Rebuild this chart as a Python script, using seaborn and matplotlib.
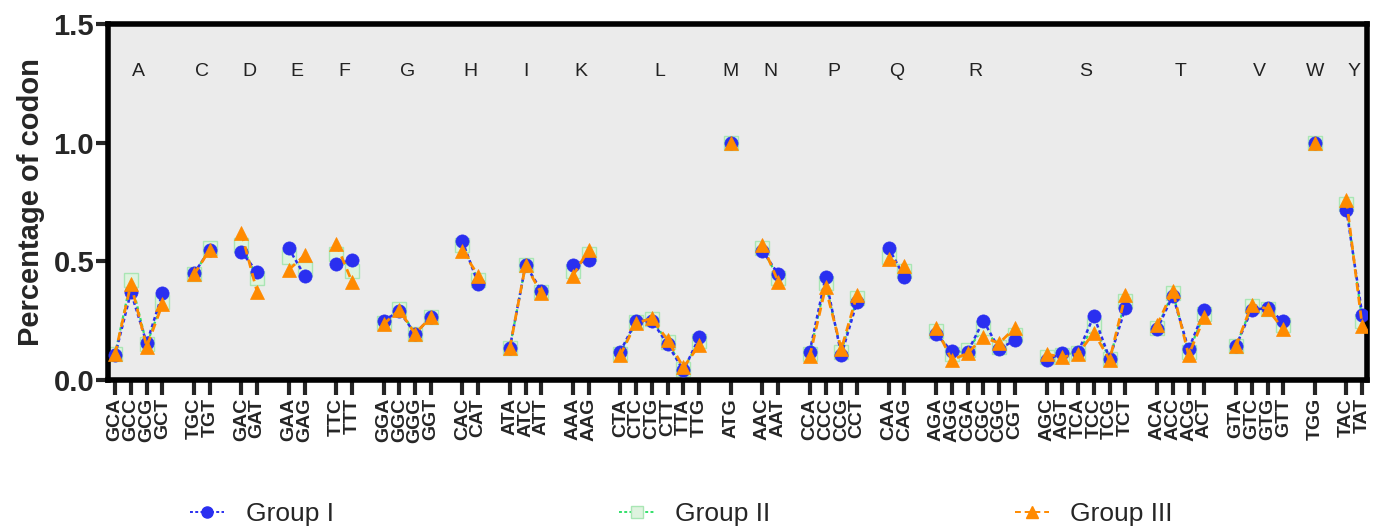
import numpy as np
import pandas as pd
import matplotlib
matplotlib.use("Agg")
import matplotlib.pyplot as plt
from matplotlib.lines import Line2D
import seaborn as sns

sns.set_style("white")
plt.rcParams['font.family'] = ['Liberation Sans', 'DejaVu Sans']

# ---------- DATA ----------
amino_acids = ["A", "C", "D", "E", "F", "G", "H", "I", "K", "L",
               "M", "N", "P", "Q", "R", "S", "T", "V", "W", "Y"]

codons = [
    ["GCA", "GCC", "GCG", "GCT"],
    ["TGC", "TGT"],
    ["GAC", "GAT"],
    ["GAA", "GAG"],
    ["TTC", "TTT"],
    ["GGA", "GGC", "GGG", "GGT"],
    ["CAC", "CAT"],
    ["ATA", "ATC", "ATT"],
    ["AAA", "AAG"],
    ["CTA", "CTC", "CTG", "CTT", "TTA", "TTG"],
    ["ATG"],
    ["AAC", "AAT"],
    ["CCA", "CCC", "CCG", "CCT"],
    ["CAA", "CAG"],
    ["AGA", "AGG", "CGA", "CGC", "CGG", "CGT"],
    ["AGC", "AGT", "TCA", "TCC", "TCG", "TCT"],
    ["ACA", "ACC", "ACG", "ACT"],
    ["GTA", "GTC", "GTG", "GTT"],
    ["TGG"],
    ["TAC", "TAT"],
]

group1 = [
    [0.105, 0.37, 0.155, 0.365],
    [0.45, 0.55],
    [0.54, 0.455],
    [0.555, 0.44],
    [0.49, 0.505],
    [0.25, 0.29, 0.195, 0.265],
    [0.585, 0.405],
    [0.135, 0.485, 0.377],
    [0.485, 0.507],
    [0.12, 0.25, 0.25, 0.15, 0.04, 0.18],
    [1.0],
    [0.545, 0.447],
    [0.12, 0.433, 0.105, 0.33],
    [0.557, 0.433],
    [0.193, 0.122, 0.118, 0.25, 0.13, 0.168],
    [0.084, 0.113, 0.118, 0.27, 0.09, 0.305],
    [0.213, 0.356, 0.13, 0.293],
    [0.142, 0.297, 0.302, 0.247],
    [1.0],
    [0.716, 0.276],
]

group2 = [
    [0.11, 0.42, 0.15, 0.33],
    [0.445, 0.555],
    [0.57, 0.43],
    [0.52, 0.47],
    [0.53, 0.46],
    [0.24, 0.30, 0.195, 0.265],
    [0.57, 0.42],
    [0.135, 0.485, 0.37],
    [0.46, 0.53],
    [0.11, 0.245, 0.255, 0.16, 0.045, 0.165],
    [1.0],
    [0.555, 0.43],
    [0.11, 0.41, 0.12, 0.345],
    [0.52, 0.46],
    [0.205, 0.11, 0.125, 0.22, 0.14, 0.19],
    [0.095, 0.105, 0.115, 0.23, 0.087, 0.335],
    [0.22, 0.367, 0.118, 0.28],
    [0.142, 0.31, 0.30, 0.23],
    [1.0],
    [0.74, 0.25],
]

group3 = [
    [0.11, 0.405, 0.14, 0.32],
    [0.445, 0.55],
    [0.62, 0.37],
    [0.465, 0.525],
    [0.575, 0.415],
    [0.235, 0.295, 0.195, 0.265],
    [0.545, 0.44],
    [0.135, 0.485, 0.365],
    [0.44, 0.55],
    [0.105, 0.24, 0.26, 0.168, 0.053, 0.147],
    [1.0],
    [0.57, 0.415],
    [0.10, 0.39, 0.13, 0.36],
    [0.51, 0.48],
    [0.22, 0.084, 0.113, 0.18, 0.155, 0.22],
    [0.109, 0.096, 0.11, 0.20, 0.084, 0.36],
    [0.23, 0.377, 0.105, 0.265],
    [0.142, 0.318, 0.30, 0.213],
    [1.0],
    [0.758, 0.227],
]

group_names = ["Group I", "Group II", "Group III"]

# ---------- BUILD TABLE ----------
rows = []
tick_pos, tick_lab, aa_centers = [], [], []
pos = 0
for i, aa in enumerate(amino_acids):
    start = pos
    for j, cod in enumerate(codons[i]):
        tick_pos.append(pos)
        tick_lab.append(cod)
        for name, vals in zip(group_names, [group1, group2, group3]):
            rows.append({"pos": pos, "codon": cod, "aa": aa,
                         "group": name, "value": vals[i][j]})
        pos += 1
    aa_centers.append((start + pos - 1) / 2)
    pos += 1  # gap between amino acids
df = pd.DataFrame(rows)

# ---------- PLOT ----------
fig = plt.figure(figsize=(13.78, 5.27), dpi=100)
ax = fig.add_axes([0.0784, 0.279, 0.9136, 0.675])
ax.set_facecolor("#ebebeb")

styles = {
    "Group II": dict(color="#33e06a", linestyle=(0, (1.5, 1.2)), linewidth=1.6,
                     marker="s", markersize=10, markerfacecolor="#dff3df",
                     markeredgecolor="#a9e6b4", markeredgewidth=1.0, zorder=2),
    "Group I": dict(color="#2a2ff0", linestyle=(0, (1.5, 1.2)), linewidth=1.8,
                    marker="o", markersize=9.5, markerfacecolor="#2a2ff0",
                    markeredgecolor="#2a2ff0", markeredgewidth=0.5, zorder=3),
    "Group III": dict(color="#ff8a00", linestyle=(0, (3, 2)), linewidth=2.0,
                      marker="^", markersize=10, markerfacecolor="#ff8a00",
                      markeredgecolor="#ff8a00", markeredgewidth=0.5, zorder=4),
}

for name in ["Group II", "Group I", "Group III"]:
    sub = df[df["group"] == name]
    sns.lineplot(data=sub, x="pos", y="value", units="aa", estimator=None,
                 ax=ax, legend=False, **styles[name])

# amino acid letters
for c, aa in zip(aa_centers, amino_acids):
    ax.text(c, 1.30, aa, ha="center", va="center", fontsize=14, color="#222222")

ax.set_xlim(-0.45, tick_pos[-1] + 0.3)
ax.set_ylim(0, 1.5)
ax.set_yticks([0, 0.5, 1.0, 1.5])
ax.set_yticklabels(["0.0", "0.5", "1.0", "1.5"], fontsize=21, fontweight="bold")
ax.set_xticks(tick_pos)
ax.set_xticklabels(tick_lab, rotation=90, fontsize=14, fontweight="bold")
ax.set_xlabel("")
ax.set_ylabel("Percentage of codon", fontsize=21, fontweight="bold", labelpad=6)

for sp in ax.spines.values():
    sp.set_linewidth(4)
    sp.set_color("black")
ax.tick_params(axis="x", direction="out", length=11, width=3, pad=2,
               bottom=True, top=False)
ax.tick_params(axis="y", direction="out", length=9, width=3, pad=1,
               left=True, right=False)

# ---------- LEGEND ----------
legend_x = [0.138, 0.4495, 0.7365]
for name, lx in zip(group_names, legend_x):
    s = styles[name]
    h = Line2D([0], [0], color=s["color"], linestyle=s["linestyle"],
               linewidth=1.4, marker=s["marker"], markersize=8,
               markerfacecolor=s["markerfacecolor"],
               markeredgecolor=s["markeredgecolor"])
    fig.legend([h], [name], loc="center left", bbox_to_anchor=(lx, 0.025),
               frameon=False, fontsize=19, handlelength=1.3, borderpad=0,
               borderaxespad=0, handletextpad=0.8)

fig.savefig("out.png", dpi=100)
